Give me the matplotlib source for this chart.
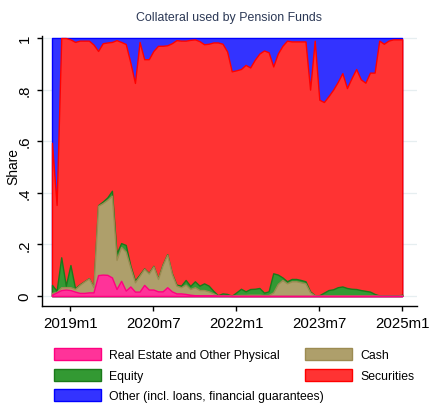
import matplotlib
matplotlib.use("Agg")
import matplotlib.pyplot as plt
import matplotlib.patches as mpatches
from matplotlib.ticker import FixedLocator, FuncFormatter
import numpy as np
import pandas as pd

plt.rcParams['font.family'] = ['Liberation Sans', 'DejaVu Sans']

# Monthly data, 2018m9 .. 2025m1
months = pd.period_range('2018-09', '2025-01', freq='M')

real_estate = [.005, .014, .023, .025, .023, .017, .012, .012, .014, .014,
               .081, .083, .082, .072, .027, .059, .021, .037, .017, .017,
               .043, .025, .025, .018, .018, .034, .018, .010, .010, .008,
               .005, .003, .002, .002, .002, .002, .001, .001, .001, .000,
               .000, .000, .000, .000, .000, .000, .000, .000, .000, .000,
               .000, .000, .000, .000, .000, .000, .000, .000, .000, .000,
               .000, .000, .000, .000, .000, .000, .000, .000, .000, .000,
               .000, .000, .000, .000, .000, .000, .000]
cash = [.007, .002, .011, .009, .011, .010, .031, .044, .054, .020,
        .269, .277, .291, .317, .113, .131, .151, .073, .036, .062,
        .062, .062, .090, .048, .102, .126, .067, .030, .024, .036,
        .022, .031, .021, .021, .016, .008, .001, .002, .002, .001,
        .003, .004, .004, .005, .005, .005, .003, .004, .014, .047,
        .062, .049, .057, .057, .053, .049, .014, .002, .001, .002,
        .002, .002, .002, .002, .002, .002, .002, .002, .002, .002,
        .002, .001, .001, .001, .001, .001, .002]
equity = [.031, .004, .116, .006, .086, .003, .002, .001, .001, .001,
          .002, .006, .009, .019, .025, .015, .026, .008, .007, .004,
          .002, .002, .002, .002, .002, .002, .003, .004, .006, .018,
          .012, .023, .017, .026, .022, .010, .001, .007, .005, .000,
          .011, .024, .014, .022, .023, .026, .010, .014, .074, .036,
          .010, .008, .009, .009, .009, .008, .004, .001, .002, .011,
          .021, .024, .032, .035, .029, .026, .025, .021, .018, .015,
          .006, .001, .001, .001, .001, .001, .003]
other = [.406, .647, .000, .000, .005, .015, .010, .010, .010, .025,
         .050, .020, .017, .015, .008, .015, .023, .095, .174, .015,
         .082, .082, .050, .030, .030, .028, .020, .008, .010, .010,
         .007, .005, .012, .024, .022, .017, .017, .022, .052, .129,
         .125, .120, .104, .114, .084, .060, .048, .055, .110, .060,
         .030, .010, .013, .013, .013, .013, .200, .010, .239, .248,
         .225, .200, .170, .136, .194, .155, .120, .160, .173, .134,
         .134, .010, .022, .010, .005, .005, .005]
# Securities = remainder of the total share
securities = [1 - a - b - c - d for a, b, c, d in zip(real_estate, cash, equity, other)]

labels = ["Real Estate and Other Physical", "Cash", "Equity", "Securities",
          "Other (incl. loans, financial guarantees)"]
faces = ["#FF3399", "#AE9F6B", "#339933", "#FF3333", "#3333FF"]
edges = ["#FF0080", "#9C8B52", "#1A7A1A", "#FF0000", "#0000FF"]

x = np.array([(p.year - 1960) * 12 + p.month - 1 for p in months])
series = [real_estate, cash, equity, securities, other]
cum = np.cumsum(np.array(series), axis=0)

fig = plt.figure(figsize=(4.29, 4.06), dpi=100)
ax = fig.add_axes([42/429, 1 - 307/406, 375/429, 270/406])

# draw from the top layer down, each from zero
for i in range(4, -1, -1):
    ax.fill_between(x, 0, cum[i], facecolor=faces[i], edgecolor=edges[i],
                    linewidth=1.0, zorder=2 + (4 - i))
handles = [mpatches.Patch(facecolor=faces[i], edgecolor=edges[i], linewidth=1.0)
           for i in range(5)]

ax.set_xlim(x[0] - 2.17, x[0] + 79.2)
ax.set_ylim(-0.0388, 1.008)

yt = [0, .2, .4, .6, .8, 1]
ax.set_yticks(yt)
ax.set_yticklabels(['0', '.2', '.4', '.6', '.8', '1'])
xt = [708, 726, 744, 762, 780]
ax.xaxis.set_major_locator(FixedLocator(xt))
ax.xaxis.set_major_formatter(FuncFormatter(lambda v, p: f"{int(v)//12 + 1960}m{int(v) % 12 + 1}"))

ax.grid(axis='y', color='#E6EEF0', linewidth=0.9, zorder=0)
ax.set_axisbelow(True)
for s in ['top', 'right']:
    ax.spines[s].set_visible(False)
for s in ['left', 'bottom']:
    ax.spines[s].set_linewidth(1.0)
    ax.spines[s].set_color('black')

ax.tick_params(axis='both', direction='out', length=3.4, width=1.0, colors='black')
ax.tick_params(axis='x', labelsize=10.8, pad=3.5)
ax.tick_params(axis='y', labelsize=10.8, pad=4.0, labelrotation=90)
for lab in ax.get_yticklabels():
    lab.set_va('center')

fig.text(229/429, 1 - 18.5/406, "Collateral used by Pension Funds", ha='center', va='center',
         fontsize=8.9, color='#2B3855')
fig.text(13/429, 1 - 167/406, "Share", rotation=90, ha='center', va='center', fontsize=9.9)

leg_kw = dict(loc='upper left', frameon=False, fontsize=8.8, handlelength=3.85,
              handleheight=1.15, handletextpad=0.65, labelspacing=0.6,
              borderaxespad=0, borderpad=0)
col1 = [0, 2, 4]
col2 = [1, 3]
fig.legend([handles[i] for i in col1], [labels[i] for i in col1],
           bbox_to_anchor=(54/429, 1 - 349/406), **leg_kw)
fig.legend([handles[i] for i in col2], [labels[i] for i in col2],
           bbox_to_anchor=(305/429, 1 - 349/406), **leg_kw)

fig.savefig("out.png", dpi=100)
